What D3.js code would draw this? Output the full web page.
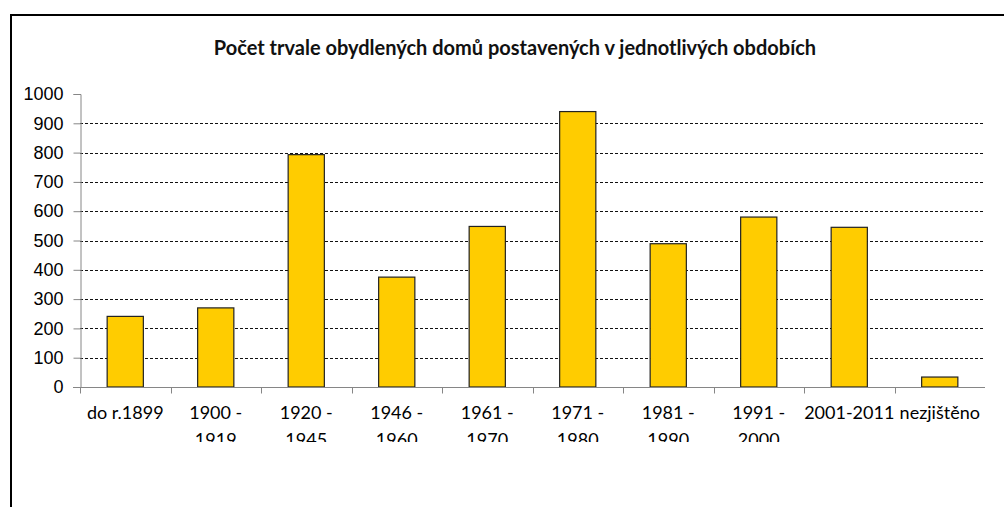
<!DOCTYPE html>
<html>
<head>
<meta charset="utf-8">
<script src="https://cdn.jsdelivr.net/npm/d3@7"></script>
<style>
  body { margin: 0; background: #fff; }
  svg { display: block; font-family: Lato, "Open Sans", sans-serif; }
</style>
</head>
<body>
<div id="chart"></div>
<script>
const width = 1004;
const height = 507;
const margin = { top: 94, right: 19, bottom: 120, left: 80 };

const title = "Počet trvale obydlených domů postavených v jednotlivých obdobích";
const categories = ["do r.1899", "1900 - 1919", "1920 - 1945", "1946 - 1960", "1961 - 1970",
    "1971 - 1980", "1981 - 1990", "1991 - 2000", "2001-2011", "nezjištěno"];
const values = [241, 270, 793, 375, 548, 940, 489, 580, 545, 34];
const yTicks = d3.range(0, 1001, 100);

const svg = d3.select("#chart")
    .append("svg")
    .attr("width", width)
    .attr("height", height);

// chart frame (runs off the right/bottom edge like the source)
svg.append("path")
    .attr("d", `M11,${height + 5}V15H${width + 5}`)
    .style("fill", "none")
    .style("stroke", "#000")
    .style("stroke-width", 2);

svg.append("text")
    .attr("x", 515)
    .attr("y", 55)
    .style("text-anchor", "middle")
    .style("font-size", "20px")
    .style("font-weight", "bold")
    .style("fill", "#111")
    .text(title);

const x = d3.scaleBand()
    .domain(categories)
    .range([margin.left, width - margin.right])
    .paddingInner(0.6)
    .paddingOuter(0.3);

const y = d3.scaleLinear()
    .domain([0, 1000])
    .range([height - margin.bottom, margin.top]);

// dashed gridlines
svg.append("g")
    .selectAll("line")
    .data(yTicks.filter(d => d > 0 && d < 1000))
    .enter()
    .append("line")
    .attr("x1", margin.left)
    .attr("x2", width - margin.right)
    .attr("y1", d => Math.round(y(d)) + 0.5)
    .attr("y2", d => Math.round(y(d)) + 0.5)
    .style("stroke", "#111")
    .style("stroke-width", 1.2)
    .style("stroke-dasharray", "3,2");

// bars
svg.append("g")
    .selectAll("rect")
    .data(values)
    .enter()
    .append("rect")
    .attr("x", (d, i) => x(categories[i]))
    .attr("y", d => y(d))
    .attr("width", x.bandwidth())
    .attr("height", d => y(0) - y(d))
    .style("fill", "#FFCC00")
    .style("stroke", "#222")
    .style("stroke-width", 1.2);

// y axis
const yAxis = svg.append("g")
    .attr("transform", `translate(${margin.left + 0.5},0)`)
    .call(d3.axisLeft(y).tickValues(yTicks).tickSize(7).tickPadding(10).tickFormat(d3.format("d")));
yAxis.select(".domain").style("stroke", "#868686");
yAxis.selectAll(".tick line").style("stroke", "#868686");
yAxis.selectAll("text")
    .style("font-size", "18px")
    .style("fill", "#000");

// x axis: ticks sit on category boundaries
const step = x.step();
const xAxisG = svg.append("g")
    .attr("transform", `translate(0,${Math.round(y(0)) + 0.5})`);
xAxisG.append("line")
    .attr("x1", margin.left - 7)
    .attr("x2", width - margin.right)
    .style("stroke", "#868686");
xAxisG.selectAll(".xtick")
    .data(d3.range(categories.length))
    .enter()
    .append("line")
    .attr("class", "xtick")
    .attr("x1", i => Math.round(margin.left + i * step) + 0.5)
    .attr("x2", i => Math.round(margin.left + i * step) + 0.5)
    .attr("y1", 0)
    .attr("y2", 6)
    .style("stroke", "#868686");

// category labels, wrapped and clipped at the bottom like the source
svg.append("clipPath")
    .attr("id", "labelClip")
    .append("rect")
    .attr("x", 0)
    .attr("y", 0)
    .attr("width", width)
    .attr("height", 442);

const labels = svg.append("g")
    .attr("clip-path", "url(#labelClip)")
    .selectAll("text")
    .data(categories)
    .enter()
    .append("text")
    .attr("x", d => x(d) + x.bandwidth() / 2)
    .attr("y", 419)
    .style("text-anchor", "middle")
    .style("font-size", "18px")
    .style("fill", "#000");

labels.each(function(d) {
    const t = d3.select(this);
    const words = d.split(" ");
    let line = [];
    let tspan = t.append("tspan").attr("x", t.attr("x")).attr("dy", 0);
    words.forEach(w => {
        line.push(w);
        tspan.text(line.join(" "));
        if (tspan.node().getComputedTextLength() > step - 6 && line.length > 1) {
            line.pop();
            tspan.text(line.join(" "));
            line = [w];
            tspan = t.append("tspan").attr("x", t.attr("x")).attr("dy", 27).text(w);
        }
    });
});
</script>
</body>
</html>
